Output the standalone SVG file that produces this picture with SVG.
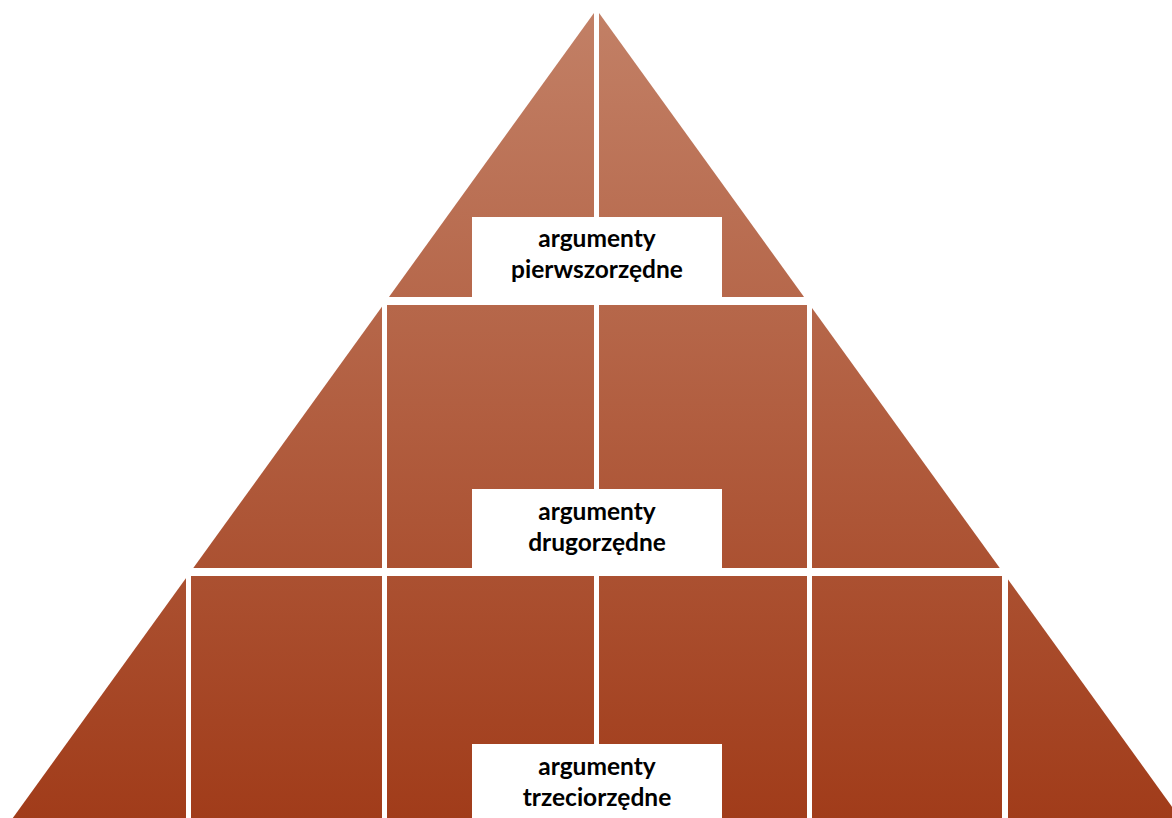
<svg xmlns="http://www.w3.org/2000/svg" width="1172" height="818" viewBox="0 0 1172 818">
  <defs>
    <linearGradient id="brick" gradientUnits="userSpaceOnUse" x1="0" y1="10" x2="0" y2="818">
      <stop offset="0" stop-color="#C28066"/>
      <stop offset="1" stop-color="#A13C1A"/>
    </linearGradient>
    <clipPath id="tri">
      <polygon points="596.5,9.5 12.8,818 1180.2,818"/>
    </clipPath>
  </defs>
  <style>
    .piece { fill: url(#brick); }
    .box { fill: #FFFFFF; }
    .lbl { font-family: Lato, "Open Sans", "Liberation Sans", sans-serif; font-weight: bold; font-size: 24.5px; fill: #000000; text-anchor: middle; }
  </style>
  <rect width="1172" height="818" fill="#FFFFFF"/>
  <g clip-path="url(#tri)">
    <g id="tier1">
      <rect class="piece" x="0" y="0" width="594" height="297"/>
      <rect class="piece" x="599" y="0" width="573" height="297"/>
      <rect class="box" x="472" y="217" width="250" height="80"/>
      <text class="lbl" x="597" y="247">argumenty</text>
      <text class="lbl" x="597" y="278">pierwszorzędne</text>
    </g>
    <g id="tier2">
      <rect class="piece" x="0" y="305" width="382" height="263"/>
      <rect class="piece" x="387" y="305" width="207" height="263"/>
      <rect class="piece" x="599" y="305" width="208" height="263"/>
      <rect class="piece" x="812" y="305" width="360" height="263"/>
      <rect class="box" x="472" y="489" width="250" height="79"/>
      <text class="lbl" x="597" y="520">argumenty</text>
      <text class="lbl" x="597" y="551">drugorzędne</text>
    </g>
    <g id="tier3">
      <rect class="piece" x="0" y="576" width="186" height="242"/>
      <rect class="piece" x="191" y="576" width="191" height="242"/>
      <rect class="piece" x="387" y="576" width="207" height="242"/>
      <rect class="piece" x="599" y="576" width="208" height="242"/>
      <rect class="piece" x="812" y="576" width="190" height="242"/>
      <rect class="piece" x="1008" y="576" width="164" height="242"/>
      <rect class="box" x="472" y="744" width="250" height="74"/>
      <text class="lbl" x="597" y="775">argumenty</text>
      <text class="lbl" x="597" y="806">trzeciorzędne</text>
    </g>
  </g>
  <g id="connectors"/>
</svg>
